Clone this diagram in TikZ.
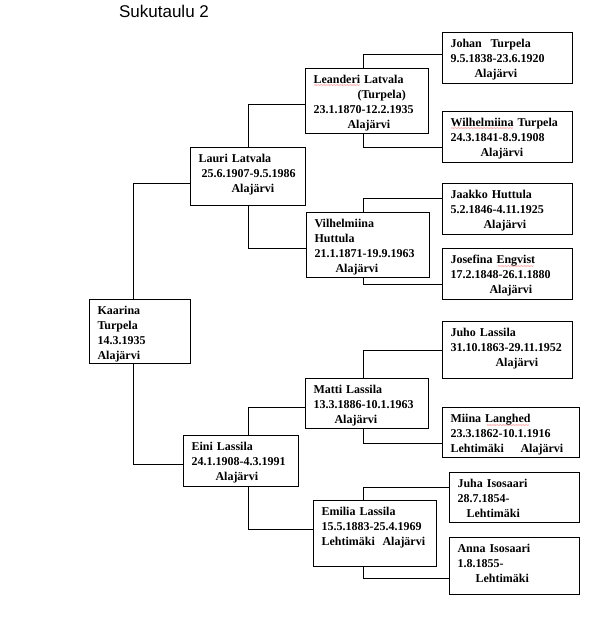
\documentclass[tikz,border=0pt]{standalone}
\usepackage{fontspec}
\usepackage{xcolor}
\usepackage{tikz}
\setmainfont{Liberation Serif}
\newfontfamily\titlefont{Liberation Sans}
\newsavebox\spellbox
\newcommand\spellmark[1]{\sbox\spellbox{#1}\rlap{\raisebox{-4.5pt}[0pt][0pt]{\hbox to\wd\spellbox{\color{red}\fontsize{6}{6}\selectfont\mdseries\cleaders\hbox{\char"7E}\hfill}}}\usebox\spellbox}

\begin{document}
\begin{tikzpicture}[x=1pt, y=-1pt,
    person/.style={rectangle, draw, line width=1pt, anchor=north west, inner xsep=8pt, inner ysep=0pt,
        text height=15pt, align=left, font=\fontsize{12}{15}\selectfont\bfseries},
    link/.style={line width=1pt}]
        \useasboundingbox (0,0) rectangle (610,620);
        \node at (164,11) [font=\titlefont\fontsize{17}{19}\selectfont] (title) {Sukutaulu 2};
        \node at (89,299) [person, text width=85pt, text depth=49pt] (kaarina) {Kaarina\\Turpela\\14.3.1935\\Alajärvi};
         \node at (190,147) [person, text width=99pt, text depth=43pt] (lauri) {Lauri Latvala\\\hspace*{3pt}25.6.1907-9.5.1986\\\hspace*{33pt}Alajärvi};
         \node at (183,435) [person, text width=99pt, text depth=36pt] (eini) {Eini Lassila\\24.1.1908-4.3.1991\\\hspace*{24pt}Alajärvi};
        \node at (305,68) [person, text width=107pt, text depth=50pt] (leanderi) {\spellmark{Leanderi} Latvala\\\hspace*{44pt}(Turpela)\\23.1.1870-12.2.1935\\\hspace*{34pt}Alajärvi};
        \node at (306,212) [person, text width=107pt, text depth=50pt] (vilhelmiina) {Vilhelmiina\\Huttula\\21.1.1871-19.9.1963\\\hspace*{21pt}Alajärvi};
        \node at (305,378) [person, text width=107pt, text depth=35pt] (matti) {Matti Lassila\\13.3.1886-10.1.1963\\\hspace*{21pt}Alajärvi};
        \node at (313,500) [person, text width=107pt, text depth=51pt] (emilia) {Emilia Lassila\\15.5.1883-25.4.1969\\\makebox[61pt][l]{Lehtimäki}Alajärvi};
                 \node at (442,32) [person, text width=114pt, text depth=36pt] (johan) {\makebox[40pt][l]{Johan}Turpela\\9.5.1838-23.6.1920\\\hspace*{24pt}Alajärvi};
                 \node at (442,111) [person, text width=114pt, text depth=36pt] (wilhelmiina) {\spellmark{Wilhelmiina} Turpela\\24.3.1841-8.9.1908\\\hspace*{30pt}Alajärvi};
                 \node at (442,183) [person, text width=114pt, text depth=36pt] (jaakko) {Jaakko Huttula\\5.2.1846-4.11.1925\\\hspace*{33pt}Alajärvi};
                 \node at (442,248) [person, text width=114pt, text depth=36pt] (josefina) {Josefina \spellmark{Engvist}\\17.2.1848-26.1.1880\\\hspace*{39pt}Alajärvi};
                 \node at (442,321) [person, text width=114pt, text depth=42pt] (juho) {Juho Lassila\\31.10.1863-29.11.1952\\\hspace*{45pt}Alajärvi};
                 \node at (442,407) [person, text width=121pt, text depth=35pt] (miina) {Miina \spellmark{Langhed}\\23.3.1862-10.1.1916\\\makebox[70pt][l]{Lehtimäki}Alajärvi};
                 \node at (449,472) [person, text width=114pt, text depth=35pt] (juha) {Juha Isosaari\\28.7.1854-\\\hspace*{9pt}Lehtimäki};
                 \node at (449,537) [person, text width=114pt, text depth=42pt] (anna) {Anna Isosaari\\1.8.1855-\\\hspace*{18pt}Lehtimäki};
        \draw ([xshift=-6.5pt]kaarina.north)[link] |- ([yshift=-7pt]lauri.west);
        \draw ([xshift=-6.5pt]kaarina.south)[link] |- ([yshift=-3.5pt]eini.west);
        \draw ([xshift=0.5pt]lauri.north)[link] |- ([yshift=-3.5pt]leanderi.west);
        \draw ([xshift=0.5pt]lauri.south)[link] |- ([yshift=-3.5pt]vilhelmiina.west);
        \draw ([xshift=7.5pt]eini.north)[link] |- ([yshift=-4pt]matti.west);
        \draw ([xshift=7.5pt]eini.south)[link] |- ([yshift=4pt]emilia.west);
        \draw ([xshift=-3.5pt]leanderi.north)[link] |- ([yshift=3.5pt]johan.west);
        \draw ([xshift=-3.5pt]leanderi.south)[link] |- ([yshift=-10.5pt]wilhelmiina.west);
        \draw ([xshift=-4.5pt]vilhelmiina.north)[link] |- ([yshift=10.5pt]jaakko.west);
        \draw ([xshift=-4.5pt]vilhelmiina.south)[link] |- ([yshift=-10.5pt]josefina.west);
        \draw ([xshift=-3.5pt]matti.north)[link] |- (juho.west);
        \draw ([xshift=-3.5pt]matti.south)[link] |- ([yshift=-11pt]miina.west);
        \draw ([xshift=-11.5pt]emilia.north)[link] |- ([yshift=10pt]juha.west);
        \draw ([xshift=-11.5pt]emilia.south)[link] |- ([yshift=-12.5pt]anna.west);
    \end{tikzpicture}
\end{document}
